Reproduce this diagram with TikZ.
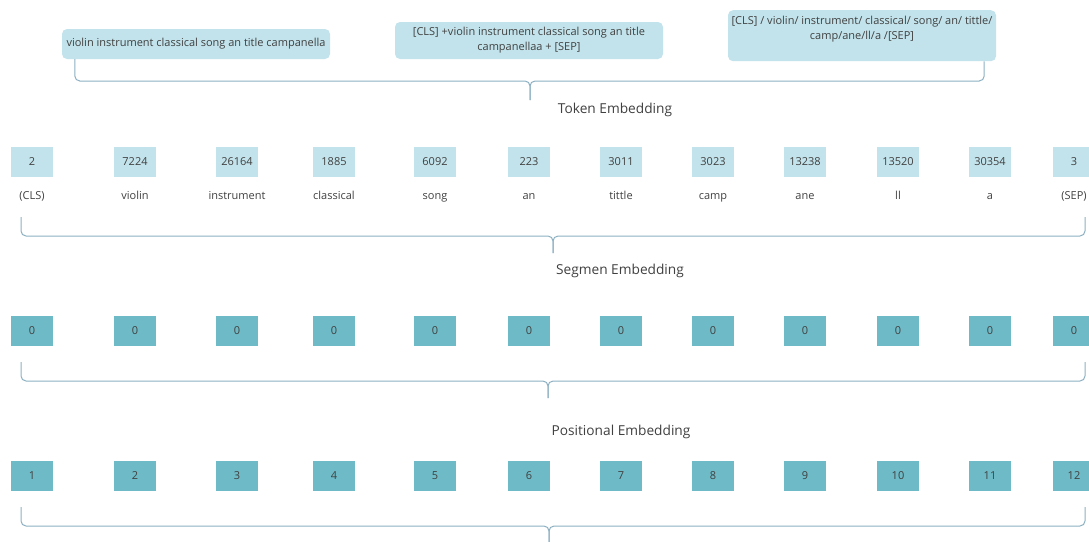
\documentclass[tikz,border=0pt]{standalone}
\usepackage{fontspec}
\setmainfont{Open Sans}
\usepackage{xcolor}
\definecolor{paleblue}{rgb}{0.76, 0.89, 0.92}
\definecolor{tealbox}{rgb}{0.43, 0.73, 0.78}
\definecolor{bracketblue}{rgb}{0.55, 0.69, 0.76}
\definecolor{textgray}{rgb}{0.25, 0.25, 0.25}
\usetikzlibrary{positioning}
\tikzset{
  sentence/.style={rectangle,rounded corners=5pt,fill=paleblue,text=textgray,minimum width=268pt,align=center,inner sep=2pt,font=\fontsize{11}{15}\selectfont},
  token/.style={rectangle,fill=paleblue,text=textgray,minimum width=42pt,minimum height=30pt,inner sep=0pt,font=\fontsize{11}{12}\selectfont},
  idbox/.style={token,fill=tealbox},
  word/.style={text=textgray,anchor=base,font=\fontsize{11}{12}\selectfont},
  heading/.style={text=textgray,font=\fontsize{13.7}{15}\selectfont},
  bracket/.style={draw=bracketblue,line width=1pt,rounded corners=5pt}
}

\begin{document}
\begin{tikzpicture}[x=1pt,y=-1pt]
  \useasboundingbox (0,0) rectangle (1089,541);

  % Input sentence, tokens with markers, word pieces
  \node[sentence,minimum height=30pt] (sent) at (196,44) {violin instrument classical song an title campanella};
  \node[sentence,minimum height=37pt] (mark) at (529,40.5) {[CLS] +violin instrument classical song an title\\campanellaa + [SEP]};
  \node[sentence,minimum height=51pt,anchor=north,inner sep=3pt] (split) at (862,10) {[CLS] / violin/ instrument/ classical/ song/ an/ tittle/\\camp/ane/ll/a /[SEP]\\\mbox{}};

  % Bracket under the sentences
  \coordinate (mid0) at (530,81);
  \coordinate (tip0) at (530,100);
  \draw[bracket] ([xshift=13pt]sent.south west) |- (mid0) -- (tip0);
  \draw[bracket] ([xshift=-12pt]split.south east) |- (mid0) -- (tip0);

  % Token embedding
  \node[heading] (tokhead) at (615,110) {Token Embedding};
  \foreach \x/\id/\w [count=\i] in {32/2/{(CLS)},135/7224/violin,237/26164/instrument,334/1885/classical,
      435/6092/song,529/223/an,621/3011/tittle,713/3023/camp,805/13238/ane,898/13520/ll,990/30354/a,1074/3/{(SEP)}} {
    \node[token] (tok\i) at (\x,162) {\id};
    \node[word] (lbl\i) at (\x,199) {\w};
  }
  \coordinate (mid1) at (553,236);
  \coordinate (tip1) at (553,253);
  \draw[bracket] ([xshift=-11pt,yshift=-18pt]lbl1.base) |- (mid1) -- (tip1);
  \draw[bracket] ([xshift=11pt,yshift=-18pt]lbl12.base) |- (mid1) -- (tip1);

  % Segment embedding
  \node[heading] (seghead) at (620,271) {Segmen Embedding};
  \foreach \x [count=\i] in {32,135,237,334,435,529,621,713,805,898,990,1074} {
    \node[idbox] (seg\i) at (\x,331) {0};
  }
  \coordinate (mid2) at (548,381);
  \coordinate (tip2) at (548,398);
  \draw[bracket] ([xshift=-11pt,yshift=-31pt]seg1.center) |- (mid2) -- (tip2);
  \draw[bracket] ([xshift=11pt,yshift=-31pt]seg12.center) |- (mid2) -- (tip2);

  % Positional embedding
  \node[heading] (poshead) at (621,432) {Positional Embedding};
  \foreach \x [count=\i] in {32,135,237,334,435,529,621,713,805,898,990,1074} {
    \node[idbox] (pos\i) at (\x,476) {\i};
  }
  \coordinate (mid3) at (549,526);
  \coordinate (tip3) at (549,548);
  \draw[bracket] ([xshift=-11pt,yshift=-31pt]pos1.center) |- (mid3) -- (tip3);
  \draw[bracket] ([xshift=11pt,yshift=-31pt]pos12.center) |- (mid3) -- (tip3);
\end{tikzpicture}
\end{document}
